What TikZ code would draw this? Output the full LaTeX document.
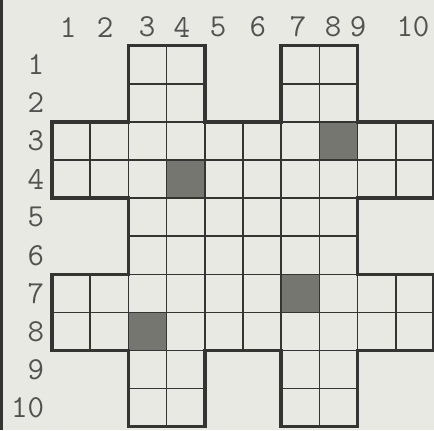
\documentclass[tikz,border=0pt]{standalone}
\definecolor{PaperColor}{RGB}{233,233,227}
\definecolor{InkColor}{RGB}{52,52,50}
\definecolor{ShadeColor}{RGB}{118,118,112}
\tikzset{
  cell/.style={draw=InkColor,line width=1.5pt},
  shadecell/.style={fill=ShadeColor},
  numtag/.style={inner sep=0pt,font=\fontsize{32}{32}\selectfont\ttfamily,text=InkColor!85}
}

\begin{document}
\begin{tikzpicture}[x=38.2pt,y=-38.1pt]
\useasboundingbox[fill=PaperColor] (-1.361,-1.2) rectangle (10,10.087);
\draw[InkColor,line width=6pt] (-1.361,-1.2) -- (-1.361,10.087);
% shaded squares
\foreach \x/\y in {7/2,3/3,6/6,2/7}
  \fill[shadecell] (\x,\y) rectangle ++(1,1);
% squares of the grid, row block by row block
\foreach \y in {0,1,8,9}
  \foreach \x in {2,3,6,7}
    \draw[cell] (\x,\y) rectangle ++(1,1);
\foreach \y in {2,3,6,7}
  \foreach \x in {0,...,9}
    \draw[cell] (\x,\y) rectangle ++(1,1);
\foreach \y in {4,5}
  \foreach \x in {2,...,7}
    \draw[cell] (\x,\y) rectangle ++(1,1);
% outline
\draw[InkColor,line width=3.5pt,line join=miter] (2,0) -- (4,0) -- (4,2) -- (6,2) -- (6,0) -- (8,0) -- (8,2) -- (10,2) -- (10,4) -- (8,4) -- (8,6) -- (10,6) -- (10,8) -- (8,8) -- (8,10) -- (6,10) -- (6,8) -- (4,8) -- (4,10) -- (2,10) -- (2,8) -- (0,8) -- (0,6) -- (2,6) -- (2,4) -- (0,4) -- (0,2) -- (2,2) -- cycle;
% column numbers
\foreach \i/\x in {1/0.42,2/1.39,3/2.49,4/3.40,5/4.35,6/5.39,7/6.44,8/7.36,9/8.01,10/9.45}
  \node[numtag] (c\i) at (\x,-0.49) {\i};
% row numbers
\foreach \i in {1,...,10}
  \node[numtag,anchor=east] (r\i) at (-0.2,\i-0.5) {\i};
\end{tikzpicture}
\end{document}
